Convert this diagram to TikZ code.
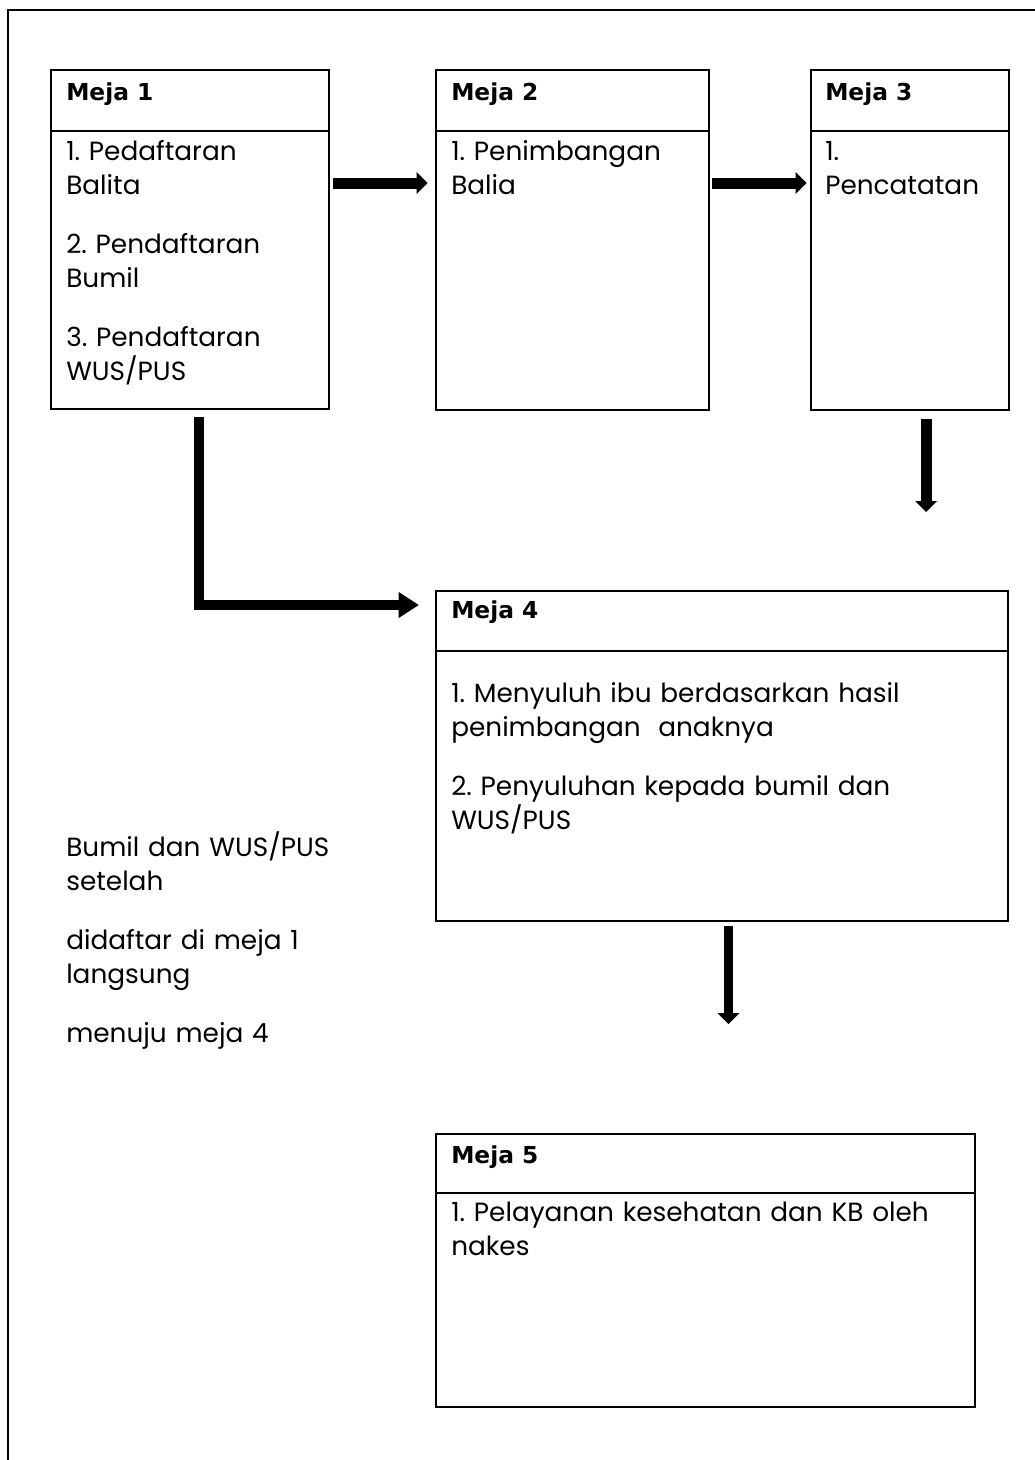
\documentclass[tikz,border=0pt]{standalone}
\usepackage{fontspec}
\setmainfont{Poppins}
\newfontfamily\hdfont{DejaVu Sans}
\usetikzlibrary{arrows.meta,fit,calc}
\frenchspacing

\begin{document}
\begin{tikzpicture}[x=0.75pt,y=-0.75pt,
  box/.style={draw, line width=1.9pt, inner sep=0pt},
  divider/.style={line width=1.4pt},
  head/.style={anchor=base west, inner sep=0pt,
    font=\hdfont\bfseries\fontsize{17.5}{20}\selectfont},
  body/.style={anchor=base west, inner sep=0pt, align=left, text width=500pt,
    font=\fontsize{19.75}{25.5}\selectfont},
  flow/.style={line width=8.25pt, line join=miter,
    -{Triangle[length=8.25pt,width=16.5pt,line width=0pt]}},
  bigflow/.style={line width=7.5pt, line join=miter,
    -{Triangle[length=15pt,width=19.5pt,line width=0pt]}},
]
\useasboundingbox (0,0) rectangle (1035,1460);

% outer frame (open at the right and bottom)
\draw[line width=1.5pt] (8,1460) -- (8,10) -- (1035,10);

% desk boxes
\node[box, fit={(51,70) (329,409)}]   (m1) {};
\node[box, fit={(436,70) (709,410)}]  (m2) {};
\node[box, fit={(811,70) (1009,410)}] (m3) {};
\node[box, fit={(436,591) (1008,921)}] (m4) {};
\node[box, fit={(436,1134) (975,1407)}] (m5) {};

% header dividers
\coordinate (d1) at (0,131);
\coordinate (d4) at (0,651);
\coordinate (d5) at (0,1193);
\draw[divider] (m1.west |- d1) -- (m1.east |- d1);
\draw[divider] (m2.west |- d1) -- (m2.east |- d1);
\draw[divider] (m3.west |- d1) -- (m3.east |- d1);
\draw[divider] (m4.west |- d4) -- (m4.east |- d4);
\draw[divider] (m5.west |- d5) -- (m5.east |- d5);

% headers
\node[head] (h1) at (66,100)   {Meja 1};
\node[head] (h2) at (451,100)  {Meja 2};
\node[head] (h3) at (825,100)  {Meja 3};
\node[head] (h4) at (451,618)  {Meja 4};
\node[head] (h5) at (451,1163) {Meja 5};

% contents
\node[body] (t1) at (66,160) {1. Pedaftaran\\Balita\\[18.75pt]2. Pendaftaran\\Bumil\\[18.75pt]3. Pendaftaran\\WUS/PUS};
\node[body] (t2) at (451,160) {1. Penimbangan\\Balia};
\node[body] (t3) at (825,160) {1.\\Pencatatan};
\node[body] (t4) at (451,702) {1. Menyuluh ibu berdasarkan hasil\\penimbangan\ \ anaknya\\[18.75pt]2. Penyuluhan kepada bumil dan\\WUS/PUS};
\node[body] (t5) at (451,1221) {1. Pelayanan kesehatan dan KB oleh\\nakes};
\node[body] (note) at (66,856) {Bumil dan WUS/PUS\\setelah\\[18.75pt]didaftar di meja 1\\langsung\\[18.75pt]menuju meja 4};

% flow arrows
\coordinate (r1) at (0,183);
\draw[flow, shorten <=2.25pt, shorten >=5.25pt] (m1.east |- r1) -- (m2.west |- r1);
\draw[flow, shorten <=1.5pt, shorten >=2.25pt] (m2.east |- r1) -- (m3.west |- r1);

\coordinate (e3) at (926,512);
\draw[flow, shorten <=6pt] (m3.south -| e3) -- (e3);

\coordinate (c1) at (198.5,605);
\draw[bigflow, shorten <=5.25pt, shorten >=12pt] (m1.south -| c1) -- (c1) -- (m4.west |- c1);

\coordinate (e4) at (728.5,1024);
\draw[flow, line width=6.75pt, shorten <=3pt] (m4.south -| e4) -- (e4);

\end{tikzpicture}
\end{document}
